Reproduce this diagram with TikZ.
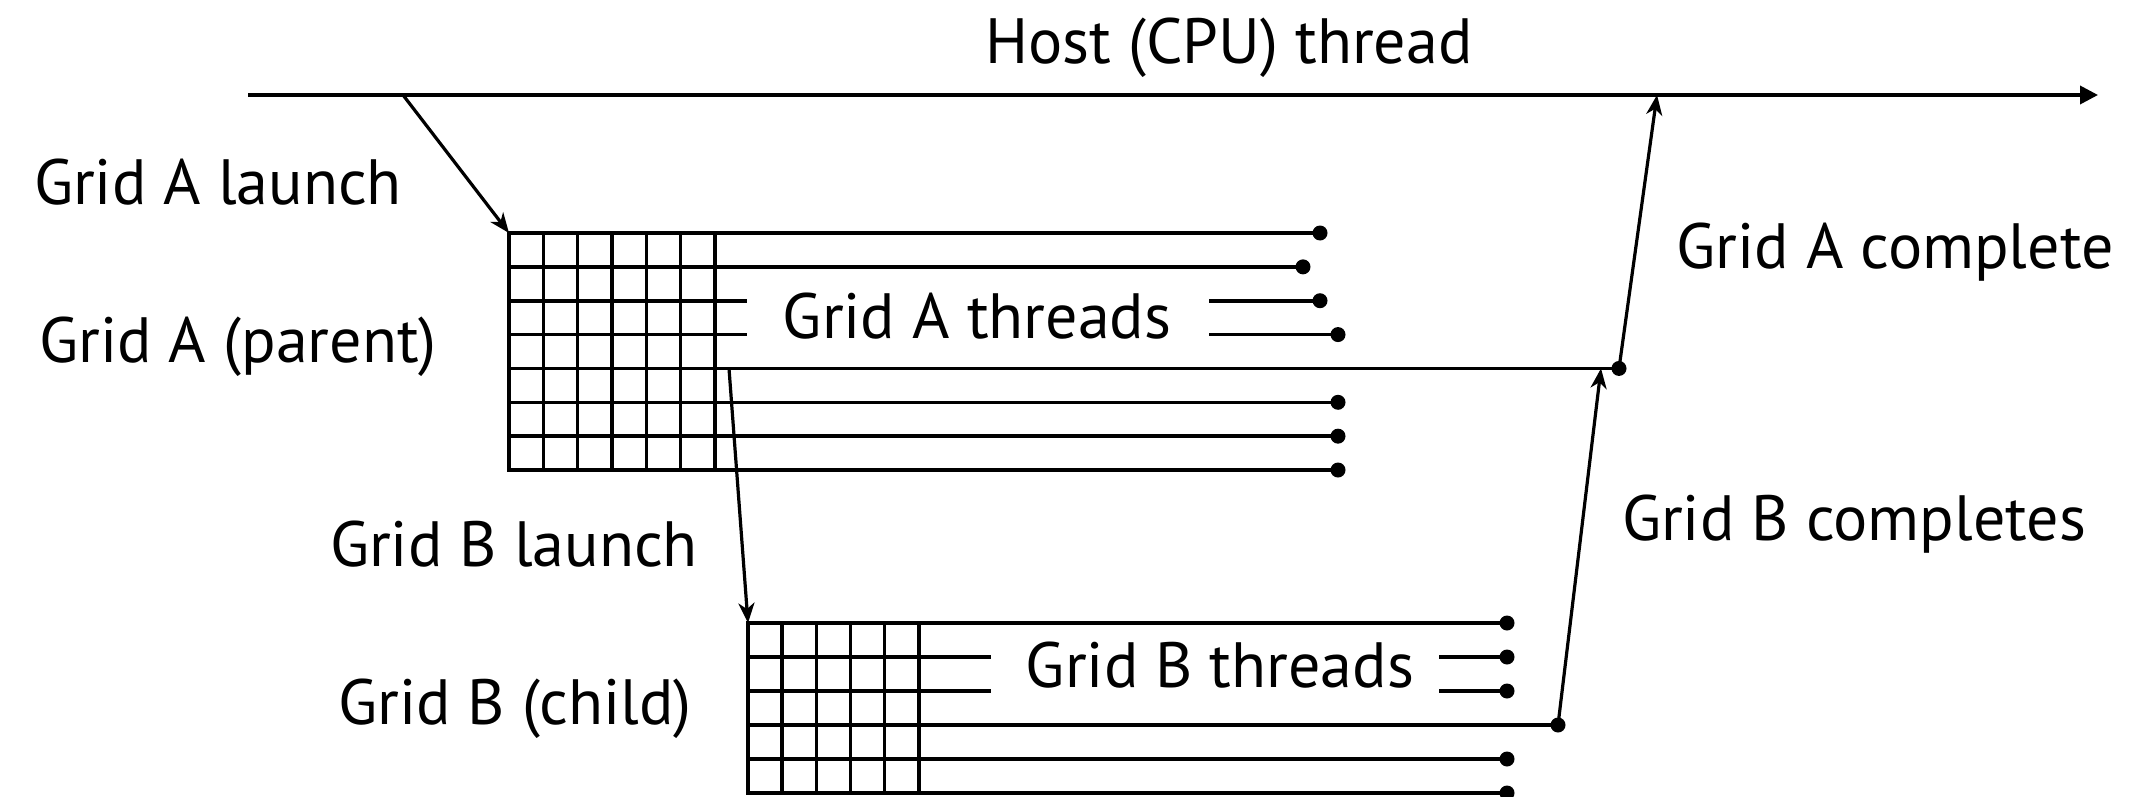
\documentclass[tikz,border=0pt]{standalone}
\usepackage{fontspec}
\setmainfont{PT Sans}
\usetikzlibrary{arrows.meta}
\begin{document}
\begin{tikzpicture}[x=1pt,y=-1pt,
  wire/.style={line width=3.6pt,line cap=rect},
  flow/.style={line width=3.2pt,-{Stealth[length=20pt,width=16pt,inset=6pt]}},
  hostarrow/.style={line width=3.6pt,-{Triangle[length=18pt,width=18pt]}},
  lbl/.style={anchor=base,inner sep=0pt,font=\fontsize{64}{76}\selectfont}]
\useasboundingbox (0,0) rectangle (2146,797);

% ---------- host thread timeline ----------
\coordinate (hostL) at (248,95);
\coordinate (hostR) at (2098,95);
\coordinate (hostLaunch) at (403,95);
\coordinate (hostJoin) at (1657,95);
\draw[hostarrow] (hostL) -- (hostR);

% ---------- grid A: 6 x 7 cells, one line per thread ----------
\def\ax{509}\def\ay{233}\def\aw{34.33}\def\ah{33.86}
\coordinate (gridA) at (\ax,\ay);
\foreach \c in {0,...,6}
  \draw[wire] (\ax+\c*\aw,\ay) -- (\ax+\c*\aw,\ay+7*\ah);
% thread lines ending in a dot
\foreach \r/\e in {0/1320,1/1303,5/1338,6/1338,7/1338} {
  \draw[wire] (\ax,\ay+\r*\ah) -- (\e,\ay+\r*\ah);
  \fill (\e,\ay+\r*\ah) circle (7.5);
}
% rows interrupted by the label
\foreach \r/\e in {2/1320,3/1338} {
  \draw[wire] (\ax,\ay+\r*\ah) -- (745,\ay+\r*\ah);
  \draw[wire] (1211,\ay+\r*\ah) -- (\e,\ay+\r*\ah);
  \fill (\e,\ay+\r*\ah) circle (7.5);
}
% parent thread that launches grid B and waits for it
\coordinate (aSpawn) at (729,\ay+4*\ah);
\coordinate (aJoin) at (1601,\ay+4*\ah);
\coordinate (aDone) at (1619,\ay+4*\ah);
\draw[wire] (\ax,\ay+4*\ah) -- (aDone);
\fill (aDone) circle (7.5);

% ---------- grid B: 5 x 5 cells ----------
\def\bx{748}\def\by{623}\def\bw{34.15}\def\bh{34}
\coordinate (gridB) at (\bx,\by);
\foreach \c in {0,...,5}
  \draw[wire] (\bx+\c*\bw,\by) -- (\bx+\c*\bw,\by+5*\bh);
\foreach \r in {0,4,5} {
  \draw[wire] (\bx,\by+\r*\bh) -- (1507,\by+\r*\bh);
  \fill (1507,\by+\r*\bh) circle (7.5);
}
\foreach \r in {1,2} {
  \draw[wire] (\bx,\by+\r*\bh) -- (989,\by+\r*\bh);
  \draw[wire] (1441,\by+\r*\bh) -- (1507,\by+\r*\bh);
  \fill (1507,\by+\r*\bh) circle (7.5);
}
\coordinate (bDone) at (1558,\by+3*\bh);
\draw[wire] (\bx,\by+3*\bh) -- (bDone);
\fill (bDone) circle (7.5);

% ---------- launch / completion arrows ----------
\draw[flow] (hostLaunch) -- (gridA);
\draw[flow] (aSpawn) -- (gridB);
\draw[flow] (bDone) -- (aJoin);
\draw[flow] (aDone) -- (hostJoin);

% ---------- labels ----------
\node[lbl] (tHost)   at (1229,64)  {Host (CPU) thread};
\node[lbl] (tALaun)  at (218,204)  {Grid A launch};
\node[lbl] (tAPar)   at (238,362)  {Grid A (parent)};
\node[lbl] (tAThr)   at (977,338)  {Grid A threads};
\node[lbl] (tADone)  at (1895,268) {Grid A complete};
\node[lbl] (tBLaun)  at (514,566)  {Grid B launch};
\node[lbl] (tBChild) at (515,724)  {Grid B (child)};
\node[lbl] (tBThr)   at (1220,687) {Grid B threads};
\node[lbl] (tBDone)  at (1854,540) {Grid B completes};
\end{tikzpicture}
\end{document}
